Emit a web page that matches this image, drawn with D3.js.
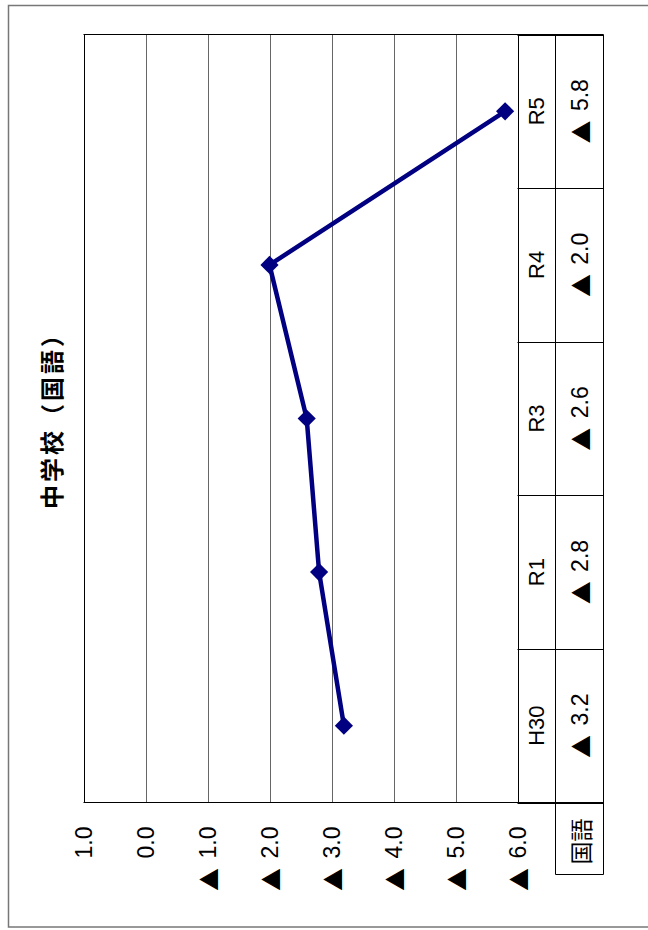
<!DOCTYPE html>
<html>
<head>
<meta charset="utf-8">
<script src="https://cdn.jsdelivr.net/npm/d3@7"></script>
<style>
  html, body { margin: 0; padding: 0; background: #fff; }
  svg { display: block; }
  text { font-family: "Liberation Sans", Arial, "Noto Sans CJK JP", sans-serif; fill: #000; }
</style>
</head>
<body>
<svg id="chart" width="648" height="930"></svg>
<script>
// 中学校（国語）: score differences by year, drawn sideways (rotated chart)
const title = "中学校（国語）";
const seriesName = "国語";
const categories = ["H30", "R1", "R3", "R4", "R5"];
const values = [-3.2, -2.8, -2.6, -2.0, -5.8];
const tickValues = [1, 0, -1, -2, -3, -4, -5, -6];

// Negative numbers are written with a ▲ prefix (full-width triangle)
function writeNumber(textSel, v) {
  textSel.text(null);
  if (v < 0) {
    textSel.append("tspan")
      .style("font-family", "'Noto Sans CJK JP', sans-serif")
      .attr("font-size", 23)
      .text("▲");
    textSel.append("tspan").text(" ");
  }
  textSel.append("tspan").attr("dx", v < 0 ? 3 : 0).text(Math.abs(v).toFixed(1));
}

const svg = d3.select("#chart");

// Layout (page coordinates; value axis runs left→right, categories bottom→top)
const plot = { left: 83.5, right: 517.5, top: 34.5, bottom: 802.5 };
const tableCol1 = 555.5;   // boundary between category row and value row
const tableRight = 603.5;
const legendBottom = 874.5;

const x = d3.scaleLinear().domain([1, -6]).range([plot.left, plot.right]);
const y = d3.scaleBand().domain(categories).range([plot.bottom, plot.top]).padding(0);

// Outer frame
svg.append("rect")
  .attr("x", 8.5).attr("y", 5.5)
  .attr("width", 660).attr("height", 921.5)
  .attr("fill", "none").attr("stroke", "#777").attr("stroke-width", 1.5);

// Vertical gridlines at every tick
svg.append("g").selectAll("line")
  .data(tickValues)
  .join("line")
  .attr("x1", d => Math.round(x(d)) + 0.5).attr("x2", d => Math.round(x(d)) + 0.5)
  .attr("y1", plot.top).attr("y2", plot.bottom)
  .attr("stroke", d => (d === 1 || d === -6) ? "#000" : "#666")
  .attr("stroke-width", 1);

// Value axis labels under the plot, rotated
const axis = d3.axisBottom(x).tickValues(tickValues).tickSize(0);
const gAxis = svg.append("g").attr("transform", `translate(0,${plot.bottom})`).call(axis);
gAxis.select(".domain").remove();
gAxis.selectAll(".tick text")
  .attr("y", 0).attr("dy", null)
  .attr("transform", "translate(0,24) rotate(-90)")
  .attr("text-anchor", "end")
  .attr("dominant-baseline", "central")
  .attr("font-size", 23)
  .attr("fill", "#000")
  .each(function(d) { writeNumber(d3.select(this), d); });

// Data table: horizontal lines at band edges
const bandEdges = categories.map(c => y(c)).concat([plot.bottom]);
const gTable = svg.append("g").attr("stroke", "#000").attr("stroke-width", 1);
gTable.selectAll("line.h")
  .data(bandEdges)
  .join("line")
  .attr("class", "h")
  .attr("x1", plot.right).attr("x2", tableRight)
  .attr("y1", d => Math.round(d) + 0.5).attr("y2", d => Math.round(d) + 0.5);
// Plot top and bottom edges
gTable.append("line").attr("x1", plot.left).attr("x2", tableRight).attr("y1", plot.top).attr("y2", plot.top);
gTable.append("line").attr("x1", plot.left).attr("x2", tableRight).attr("y1", plot.bottom).attr("y2", plot.bottom);
// Table columns
gTable.append("line").attr("x1", tableCol1).attr("x2", tableCol1).attr("y1", plot.top).attr("y2", legendBottom);
gTable.append("line").attr("x1", tableRight).attr("x2", tableRight).attr("y1", plot.top).attr("y2", legendBottom);
gTable.append("line").attr("x1", tableCol1).attr("x2", tableRight).attr("y1", legendBottom).attr("y2", legendBottom);

// Category names
svg.append("g").selectAll("text")
  .data(categories)
  .join("text")
  .attr("transform", d => `translate(${(plot.right + tableCol1) / 2},${y(d) + y.bandwidth() / 2}) rotate(-90)`)
  .attr("text-anchor", "middle")
  .attr("dominant-baseline", "central")
  .attr("font-size", 22)
  .text(d => d);

// Value row
svg.append("g").selectAll("text")
  .data(values)
  .join("text")
  .attr("transform", (d, i) => `translate(${(tableCol1 + tableRight) / 2},${y(categories[i]) + y.bandwidth() / 2}) rotate(-90)`)
  .attr("text-anchor", "middle")
  .attr("dominant-baseline", "central")
  .attr("font-size", 23)
  .each(function(d) { writeNumber(d3.select(this), d); });

// Series name in the row header
svg.append("text")
  .attr("transform", `translate(${(tableCol1 + tableRight) / 2},${(plot.bottom + legendBottom) / 2 + 3}) rotate(-90)`)
  .attr("text-anchor", "middle")
  .attr("dominant-baseline", "central")
  .attr("font-size", 23)
  .style("font-family", "'Noto Sans CJK JP', sans-serif")
  .text(seriesName);

// Series line
const pts = values.map((v, i) => [x(v), y(categories[i]) + y.bandwidth() / 2]);
svg.append("path")
  .datum(pts)
  .attr("d", d3.line())
  .attr("fill", "none")
  .attr("stroke", "#000080")
  .attr("stroke-width", 4.5)
  .attr("stroke-linejoin", "round");

// Diamond markers
const diamond = d3.symbol().type(d3.symbolSquare).size(165);
svg.append("g").selectAll("path")
  .data(pts)
  .join("path")
  .attr("d", diamond)
  .attr("transform", d => `translate(${d[0]},${d[1]}) rotate(45)`)
  .attr("fill", "#000080");

// Title, rotated
svg.append("text")
  .attr("transform", `translate(50,${(plot.top + plot.bottom) / 2 - 4}) rotate(-90)`)
  .attr("text-anchor", "middle")
  .attr("dominant-baseline", "central")
  .attr("font-size", 24)
  .attr("letter-spacing", 3)
  .attr("font-weight", "bold")
  .style("font-family", "'Noto Sans CJK JP', sans-serif")
  .text(title);
</script>
</body>
</html>
